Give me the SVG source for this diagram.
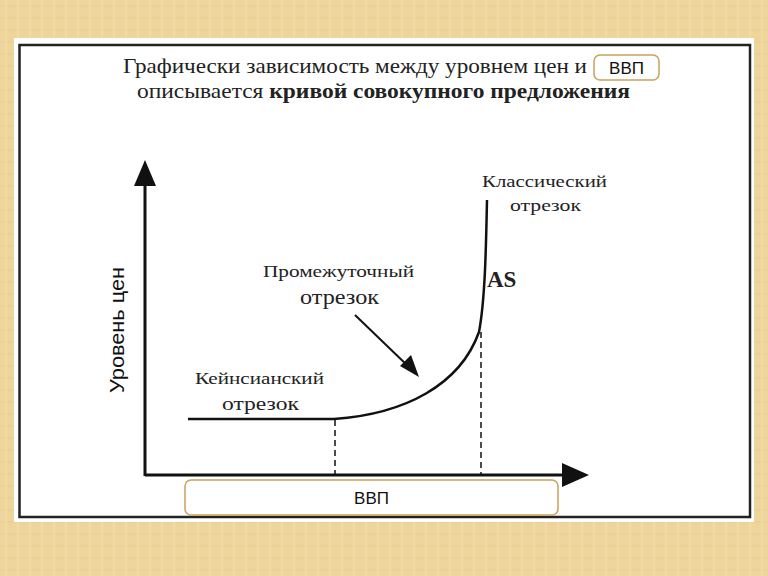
<svg xmlns="http://www.w3.org/2000/svg" width="768" height="576" viewBox="0 0 768 576">
<defs>
<pattern id="paper" width="12" height="12" patternUnits="userSpaceOnUse">
<rect width="12" height="12" fill="#eed59c"/>
<path d="M0 6H12" stroke="#e2c587" stroke-width="1" opacity="0.6"/>
<path d="M6 0V12" stroke="#f6e2b2" stroke-width="1" opacity="0.7"/>
</pattern>
<style>
.t{font-family:"Liberation Serif","DejaVu Serif",serif;fill:#222}
.s{font-family:"Liberation Sans","DejaVu Sans",sans-serif;fill:#111}
.ln{stroke:#111;fill:none}
.box{fill:#fff;stroke:#c9a35a;stroke-width:1.5}
</style>
</defs>
<rect width="768" height="576" fill="url(#paper)"/>
<rect x="14" y="38" width="740" height="484" fill="#fff"/>
<rect x="19.5" y="45" width="730.5" height="472" fill="#fff" stroke="#222" stroke-width="2.5"/>
<g id="title">
<text class="t" x="123" y="73" font-size="21" textLength="464" lengthAdjust="spacingAndGlyphs">Графически зависимость между уровнем цен и</text>
<text class="t" x="137" y="98" font-size="21" textLength="493" lengthAdjust="spacingAndGlyphs">описывается <tspan font-weight="bold">кривой совокупного предложения</tspan></text>
</g>
<g id="connectors">
<path class="ln" stroke-width="3" d="M145 476V180"/>
<path d="M134 186L145 160L156 186z" fill="#111"/>
<path class="ln" stroke-width="3" d="M145 475H570"/>
<path d="M562 463L589 475L562 487z" fill="#111"/>
<path class="ln" stroke-width="2.5" d="M188 419H334C405 414 460 385 479 332C485 300 486 250 487 200"/>
<path class="ln" stroke-width="1.5" stroke-dasharray="6 4" d="M335 420V475M481 332V475"/>
<path class="ln" stroke-width="2" d="M355 315L410 368"/>
<path d="M419 377L400 366L411 355z" fill="#111"/>
</g>
<g id="ylabel"><text class="s" x="0" y="0" font-size="20" text-anchor="middle" textLength="126" lengthAdjust="spacingAndGlyphs" transform="translate(124 330) rotate(-90)">Уровень цен</text></g>
<g id="classic">
<text class="t" x="482" y="187" font-size="17" textLength="125" lengthAdjust="spacingAndGlyphs">Классический</text>
<text class="t" x="510" y="211" font-size="17" textLength="71" lengthAdjust="spacingAndGlyphs">отрезок</text>
</g>
<g id="as"><text class="t" x="487" y="287" font-size="23" font-weight="bold">AS</text></g>
<g id="intermediate">
<text class="t" x="263" y="277" font-size="17" textLength="151" lengthAdjust="spacingAndGlyphs">Промежуточный</text>
<text class="t" x="300" y="304" font-size="20" textLength="79" lengthAdjust="spacingAndGlyphs">отрезок</text>
</g>
<g id="keynes">
<text class="t" x="195" y="384" font-size="17" textLength="129" lengthAdjust="spacingAndGlyphs">Кейнсианский</text>
<text class="t" x="222" y="410" font-size="19" textLength="77" lengthAdjust="spacingAndGlyphs">отрезок</text>
</g>
<g id="gdp-top">
<rect class="box" x="594" y="55" width="65" height="25" rx="6"/>
<text class="s" x="626.5" y="74" font-size="17" text-anchor="middle">ВВП</text>
</g>
<g id="gdp-bottom">
<rect class="box" x="185" y="480" width="373" height="35" rx="6"/>
<text class="s" x="371.5" y="504" font-size="17" text-anchor="middle">ВВП</text>
</g>
</svg>
